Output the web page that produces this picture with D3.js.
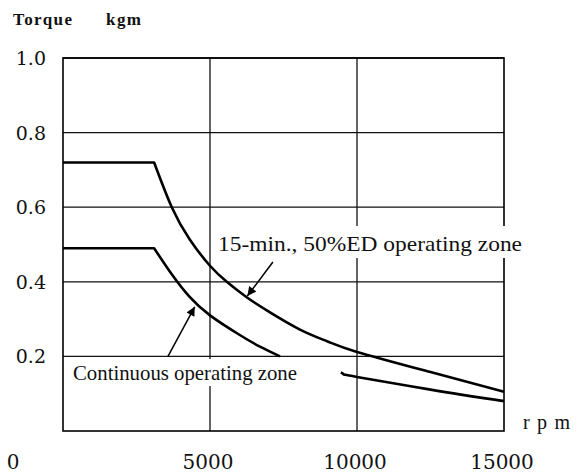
<!DOCTYPE html>
<html>
<head>
<meta charset="utf-8">
<script src="https://cdn.jsdelivr.net/npm/d3@7"></script>
<style>
  body { margin: 0; background: #fff; }
  svg { display: block; }
  .grid line { stroke: #111; stroke-width: 1.3; }
  .curve { fill: none; stroke: #000; stroke-width: 2.6; stroke-linejoin: round; }
  .num { font-family: "DejaVu Serif", serif; font-size: 19px; fill: #111; }
  .lbl { font-family: "Liberation Serif", serif; font-size: 22px; fill: #111; }
  .ttl { font-family: "Liberation Serif", serif; font-size: 17px; font-weight: bold; fill: #111; }
</style>
</head>
<body>
<script>
// values
const xTicks = [5000, 10000, 15000];
const yTicks = [0.2, 0.4, 0.6, 0.8, 1.0];
const yTickLabels = ["0.2", "0.4", "0.6", "0.8", "1.0"];

// 15-min., 50%ED curve
const shortSpeed  = [0, 3100, 3700, 4300, 5000, 5600, 6260, 7000, 8060, 9000, 10000, 12500, 15000];
const shortTorque = [0.72, 0.72, 0.60, 0.515, 0.443, 0.398, 0.358, 0.32, 0.272, 0.24, 0.212, 0.158, 0.105];

// continuous curve, part above the label
const contSpeed  = [0, 3100, 3700, 4300, 5000, 6000, 6700, 7380];
const contTorque = [0.49, 0.49, 0.42, 0.36, 0.31, 0.258, 0.226, 0.20];
// continuous curve, part right of the label
const contTailSpeed  = [9450, 9550, 10000, 12500, 15000];
const contTailTorque = [0.157, 0.152, 0.145, 0.111, 0.08];

const W = 578, H = 476;
const m = {left: 63, top: 58, right: 74, bottom: 45};

const svg = d3.select("body").append("svg").attr("width", W).attr("height", H);

const x = d3.scaleLinear().domain([0, 15000]).range([m.left, W - m.right]);
const y = d3.scaleLinear().domain([0, 1]).range([H - m.bottom, m.top]);

const zip = (a, b) => a.map((v, i) => [v, b[i]]);
const flat = d3.line().x(d => x(d[0])).y(d => y(d[1]));
const bend = d3.line().x(d => x(d[0])).y(d => y(d[1])).curve(d3.curveNatural);
// flat part straight, falling part smooth, so the knee keeps its corner
const kneePath = pts => flat(pts.slice(0, 2)) + bend(pts.slice(1)).replace(/^M/, "L");

// grid
const grid = svg.append("g").attr("class", "grid");
grid.selectAll(".h").data(yTicks).join("line")
  .attr("x1", x(0)).attr("x2", x(15000))
  .attr("y1", d => y(d)).attr("y2", d => y(d));
grid.selectAll(".v").data(xTicks.slice(0, 2)).join("line")
  .attr("x1", d => x(d)).attr("x2", d => x(d))
  .attr("y1", y(0)).attr("y2", y(1));

// frame
svg.append("rect")
  .attr("x", x(0)).attr("y", y(1))
  .attr("width", x(15000) - x(0)).attr("height", y(0) - y(1))
  .attr("fill", "none").attr("stroke", "#000").attr("stroke-width", 1.6);

// y tick labels
svg.selectAll(".yl").data(yTicks).join("text")
  .attr("class", "num")
  .attr("x", 46).attr("y", d => y(d) + 7)
  .attr("text-anchor", "end")
  .text((d, i) => yTickLabels[i]);

// x tick labels
svg.selectAll(".xl").data(xTicks).join("text")
  .attr("class", "num")
  .attr("x", d => x(d) - 2).attr("y", 469)
  .attr("text-anchor", "middle")
  .style("font-size", "20px")
  .text(d => d);
svg.append("text").attr("class", "num").style("font-size", "20px")
  .attr("x", 13).attr("y", 469).attr("text-anchor", "middle").text("0");

// axis titles
svg.append("text").attr("class", "ttl").attr("x", 13).attr("y", 25)
  .attr("textLength", 59).attr("lengthAdjust", "spacing").text("Torque");
svg.append("text").attr("class", "ttl").attr("x", 106).attr("y", 25)
  .attr("textLength", 35).attr("lengthAdjust", "spacing").text("kgm");
svg.append("text").attr("class", "lbl").attr("x", 523).attr("y", 429)
  .attr("textLength", 47).attr("lengthAdjust", "spacing").style("font-size", "20px").text("rpm");

// label backgrounds (they hide the grid behind the text)
svg.append("rect").attr("x", 214).attr("y", 226).attr("width", 312).attr("height", 32).attr("fill", "#fff");
svg.append("rect").attr("x", 70).attr("y", 359).attr("width", 232).attr("height", 27).attr("fill", "#fff");

// curves
svg.append("path").attr("class", "curve").attr("d", kneePath(zip(shortSpeed, shortTorque)));
svg.append("path").attr("class", "curve").attr("d", kneePath(zip(contSpeed, contTorque)));
svg.append("path").attr("class", "curve").attr("d", bend(zip(contTailSpeed, contTailTorque)));

// zone labels
svg.append("text").attr("class", "lbl").attr("x", 218).attr("y", 251)
  .attr("textLength", 304).attr("lengthAdjust", "spacingAndGlyphs")
  .text("15-min., 50%ED operating zone");
svg.append("text").attr("class", "lbl").attr("x", 73).attr("y", 380)
  .attr("textLength", 224).attr("lengthAdjust", "spacingAndGlyphs")
  .text("Continuous operating zone");

// arrows
svg.append("defs").append("marker")
  .attr("id", "head").attr("viewBox", "0 0 10 10").attr("refX", 10).attr("refY", 5)
  .attr("markerWidth", 11).attr("markerHeight", 9).attr("markerUnits", "userSpaceOnUse")
  .attr("orient", "auto")
  .append("path").attr("d", "M0,0L10,5L0,10z").attr("fill", "#000");

const arrows = [
  [[3570, 0.2], [4480, 0.333]],
  [[7140, 0.453], [6270, 0.362]]
];
svg.selectAll(".arrow").data(arrows).join("line")
  .attr("x1", d => x(d[0][0])).attr("y1", d => y(d[0][1]))
  .attr("x2", d => x(d[1][0])).attr("y2", d => y(d[1][1]))
  .attr("stroke", "#000").attr("stroke-width", 1.5)
  .attr("marker-end", "url(#head)");
</script>
</body>
</html>
